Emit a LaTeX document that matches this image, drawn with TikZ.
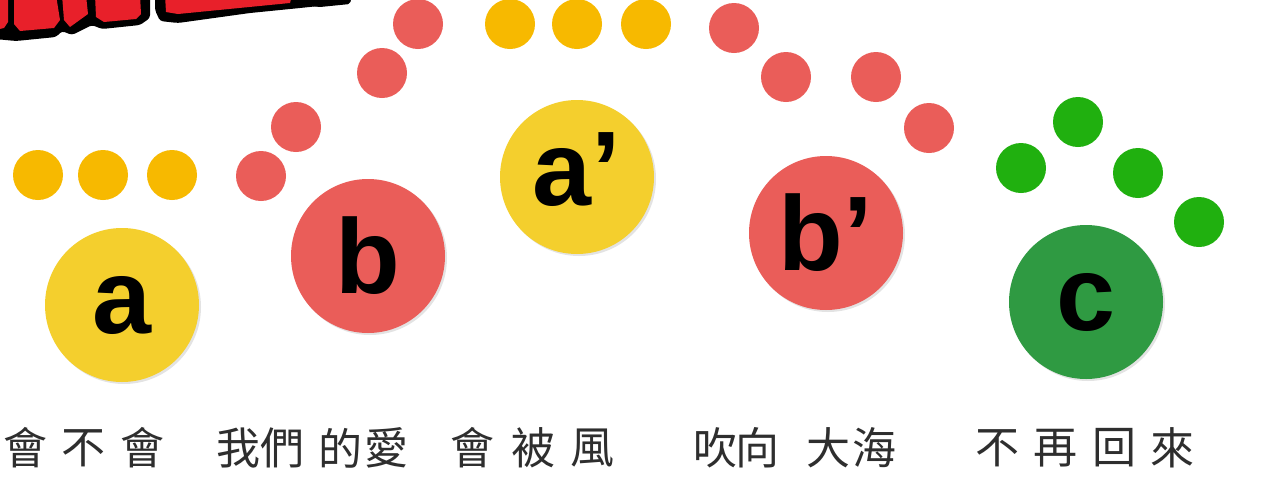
\documentclass[tikz,border=0pt]{standalone}
\usepackage{fontspec}
\setmainfont{Liberation Sans}
\newfontfamily\cjk{Noto Sans CJK TC}
\usetikzlibrary{shadows}
\definecolor{ybig}{HTML}{F4CF2D}
\definecolor{ysmall}{HTML}{F7B900}
\definecolor{rdot}{HTML}{EA5D59}
\definecolor{gdot}{HTML}{20B00F}
\definecolor{gbig}{HTML}{2F9A42}
\definecolor{ttlred}{HTML}{E8202A}
\definecolor{txtgray}{HTML}{2E2E2E}
\begin{document}
\begin{tikzpicture}[x=1pt,y=-1pt,
  dot/.style={circle,inner sep=0pt,minimum size=50pt},
  big/.style={circle,inner sep=0pt,minimum size=154pt,
    font=\fontsize{106}{106}\selectfont\bfseries,text=black,
    drop shadow={shadow xshift=2pt,shadow yshift=-2pt,opacity=0.22}},
  word/.style={font=\cjk\fontsize{44}{44}\selectfont,text=txtgray,inner sep=0pt}]
\useasboundingbox[fill=white] (0,0) rectangle (1262,496);
% cropped title fragment
\begin{scope}
\clip (0,0) rectangle (400,60);
\fill[black,rounded corners=3pt] (-5,-5) -- (150,-5) -- (150,18) -- (140,25) -- (102,29) -- (92,25) -- (72,35) -- (62,31) -- (56,37) -- (16,41) -- (-5,39) -- cycle;
\fill[ttlred] (-5,-5) -- (8,-5) -- (8,22) -- (4,28) -- (-5,30) -- cycle;
\fill[ttlred] (14,-5) -- (56,-5) -- (60,20) -- (54,28) -- (20,31) -- (14,24) -- cycle;
\fill[ttlred] (62,-5) -- (86,-5) -- (88,14) -- (70,27) -- (64,20) -- cycle;
\fill[ttlred] (95,-5) -- (140,-5) -- (141,14) -- (136,19) -- (104,22) -- (96,17) -- cycle;
\fill[black,rounded corners=3pt] (155,-5) -- (338,-5) -- (338,4) -- (300,8) -- (250,13) -- (178,23) -- (160,21) -- (155,10) -- cycle;
\fill[ttlred] (165,-5) -- (292,-5) -- (290,3) -- (178,14) -- (166,12) -- cycle;
\fill[black,rounded corners=2pt] (300,-5) -- (352,-5) -- (350,4) -- (320,7) -- (302,5) -- cycle;
\end{scope}
% small dots
\node[dot,fill=ysmall] (y1) at (38,175) {};
\node[dot,fill=ysmall] (y2) at (103,175) {};
\node[dot,fill=ysmall] (y3) at (172,175) {};
\node[dot,fill=rdot] (r1) at (261,176) {};
\node[dot,fill=rdot] (r2) at (296,127) {};
\node[dot,fill=rdot] (r3) at (382,73) {};
\node[dot,fill=rdot] (r4) at (418,24) {};
\node[dot,fill=ysmall] (y4) at (510,24) {};
\node[dot,fill=ysmall] (y5) at (577,24) {};
\node[dot,fill=ysmall] (y6) at (646,24) {};
\node[dot,fill=rdot] (r5) at (734,28) {};
\node[dot,fill=rdot] (r6) at (786,77) {};
\node[dot,fill=rdot] (r7) at (876,77) {};
\node[dot,fill=rdot] (r8) at (929,128) {};
\node[dot,fill=gdot] (g1) at (1021,168) {};
\node[dot,fill=gdot] (g2) at (1078,122) {};
\node[dot,fill=gdot] (g3) at (1138,173) {};
\node[dot,fill=gdot] (g4) at (1199,222) {};
% big circles
\node[big,fill=ybig] (A) at (122,305) {a};
\node[big,fill=rdot] (B) at (368,256) {b};
\node[big,fill=ybig] (A2) at (577,177) {a\smash{’}};
\node[big,fill=rdot] (B2) at (826,233) {b\smash{’}};
\node[big,fill=gbig] (C) at (1086,302) {c};
% lyrics
\node[word] (t1) at (25,448) {會};
\node[word] (t2) at (83,448) {不};
\node[word] (t3) at (142,448) {會};
\node[word] (t4) at (238,448) {我};
\node[word] (t5) at (282,448) {們};
\node[word] (t6) at (340,448) {的};
\node[word] (t7) at (386,448) {愛};
\node[word] (t8) at (472,448) {會};
\node[word] (t9) at (533,448) {被};
\node[word] (t10) at (592,448) {風};
\node[word] (t11) at (715,448) {吹};
\node[word] (t12) at (757,448) {向};
\node[word] (t13) at (828,448) {大};
\node[word] (t14) at (874,448) {海};
\node[word] (t15) at (997,448) {不};
\node[word] (t16) at (1055,448) {再};
\node[word] (t17) at (1114,448) {回};
\node[word] (t18) at (1172,448) {來};
\end{tikzpicture}
\end{document}
